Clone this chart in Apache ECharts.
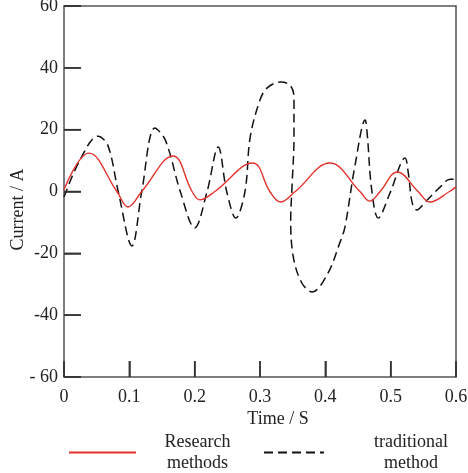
<!DOCTYPE html>
<html>
<head>
<meta charset="utf-8">
<script src="https://cdn.jsdelivr.net/npm/echarts@6/dist/echarts.min.js"></script>
<style>html,body{margin:0;padding:0;background:#fff}#c{width:468px;height:473px}</style>
</head>
<body>
<div id="c"></div>
<script>
// Series names
var seriesNames = ['Research methods', 'traditional method'];
// Tick labels
var xTickLabels = ['0', '0.1', '0.2', '0.3', '0.4', '0.5', '0.6'];
var yTickLabels = ['- 60', '-40', '-20', '0', '20', '40', '60'];
// Research methods: [time, current]
var researchData = [
  [0, 0.6], [0.038, 12.4], [0.081, 0], [0.098, -5], [0.119, 0], [0.167, 11.5],
  [0.196, 0], [0.208, -2.7], [0.231, 0], [0.289, 9.2], [0.315, 0], [0.331, -3.4],
  [0.354, 0], [0.407, 9.2], [0.453, 0], [0.468, -3.1], [0.484, 0], [0.51, 6.3],
  [0.542, 0], [0.56, -3.4], [0.59, 0], [0.6, 1.5]
];
// traditional method: [time, current]
var traditionalData = [
  [0, -1.8], [0.024, 10], [0.052, 17.9], [0.067, 15], [0.083, 0], [0.104, -17.6],
  [0.119, 0], [0.139, 20.5], [0.155, 16.7], [0.178, 0], [0.2, -11.8], [0.219, 0],
  [0.236, 14.4], [0.249, 0], [0.263, -8.6], [0.277, 0], [0.285, 17.6], [0.3, 29.6],
  [0.311, 33.5], [0.331, 35.4], [0.346, 34.4], [0.352, 30.6], [0.352, 17.6],
  [0.349, 1.5], [0.347, -9.2], [0.351, -21.2], [0.364, -29.6], [0.38, -32.5],
  [0.404, -26.4], [0.422, -16.7], [0.43, -11.5], [0.445, 7.9], [0.461, 23.1],
  [0.464, 18.9], [0.471, 0.5], [0.481, -8.6], [0.499, -0.5], [0.522, 10.8],
  [0.527, 6], [0.533, -3.7], [0.54, -6], [0.553, -3.4], [0.576, 1.5], [0.591, 4], [0.6, 4]
];

var X_MIN = 0, X_MAX = 0.6, X_STEP = 0.1;
var Y_MIN = -60, Y_MAX = 60, Y_STEP = 20;
var FONT = '"Liberation Serif", "Times New Roman", serif';
var AXIS_COLOR = '#555';
var chart = echarts.init(document.getElementById('c'), null, {renderer: 'canvas'});

function frameAxis(extra) {
  return Object.assign({
    type: 'value', show: true,
    axisLine: {show: true, onZero: false, lineStyle: {color: AXIS_COLOR, width: 1.5}},
    axisTick: {show: false}, axisLabel: {show: false}, splitLine: {show: false}
  }, extra);
}

chart.setOption({
  animation: false,
  backgroundColor: '#fff',
  grid: {left: 64, right: 12, top: 6, bottom: 96, show: false,
    containLabel: false, outerBoundsMode: 'none'},
  legend: [
    {
      data: [seriesNames[0]], left: 68, top: 433, padding: 0, itemWidth: 67, itemHeight: 14,
      itemStyle: {opacity: 0},
      formatter: function () { return '{a|Research}\n{a|methods}'; },
      textStyle: {fontFamily: FONT, fontSize: 18, color: '#222',
        rich: {a: {fontFamily: FONT, fontSize: 18, color: '#222', width: 113, align: 'center', lineHeight: 21}}}
    },
    {
      data: [seriesNames[1]], left: 263, top: 433, padding: 0, itemWidth: 60, itemHeight: 14,
      itemStyle: {opacity: 0},
      formatter: function () { return '{a|traditional}\n{a|method}'; },
      textStyle: {fontFamily: FONT, fontSize: 18, color: '#222',
        rich: {a: {fontFamily: FONT, fontSize: 18, color: '#222', width: 164, align: 'center', lineHeight: 21}}}
    }
  ],
  xAxis: [
    {
      type: 'value', min: X_MIN, max: X_MAX, interval: X_STEP, position: 'bottom',
      name: 'Time / S', nameLocation: 'middle', nameGap: 33, nameMoveOverlap: false,
      nameTextStyle: {fontFamily: FONT, fontSize: 18, color: '#222', padding: [0, 0, 0, 36]},
      axisLine: {show: true, onZero: false, lineStyle: {color: AXIS_COLOR, width: 1.5}},
      axisTick: {show: true, inside: true, length: 16, lineStyle: {color: '#333', width: 1.5}},
      axisLabel: {fontFamily: FONT, fontSize: 18, color: '#222', margin: 11,
        formatter: function (v) { return xTickLabels[Math.round(v / X_STEP)]; }},
      splitLine: {show: false}
    },
    frameAxis({min: X_MIN, max: X_MAX, position: 'top'})
  ],
  yAxis: [
    {
      type: 'value', min: Y_MIN, max: Y_MAX, interval: Y_STEP, position: 'left',
      name: 'Current / A', nameLocation: 'middle', nameGap: 37, nameRotate: 90, nameMoveOverlap: false,
      nameTextStyle: {fontFamily: FONT, fontSize: 18, color: '#222', padding: [0, 36, 0, 0]},
      axisLine: {show: true, onZero: false, lineStyle: {color: AXIS_COLOR, width: 1.5}},
      axisTick: {show: true, inside: true, length: 17, lineStyle: {color: '#333', width: 1.5}},
      axisLabel: {fontFamily: FONT, fontSize: 18, color: '#222', margin: 6,
        formatter: function (v) { return yTickLabels[Math.round((v - Y_MIN) / Y_STEP)]; }},
      splitLine: {show: false}
    },
    frameAxis({min: Y_MIN, max: Y_MAX, position: 'right'})
  ],
  series: [
    {
      name: seriesNames[0], type: 'line', data: researchData, smooth: 0.4, symbol: 'none',
      xAxisIndex: 0, yAxisIndex: 0,
      lineStyle: {color: '#e4322b', width: 1.4}, itemStyle: {color: '#e4322b'}, z: 3
    },
    {
      name: seriesNames[1], type: 'line', data: traditionalData, smooth: 0.35, symbol: 'none',
      xAxisIndex: 0, yAxisIndex: 0,
      lineStyle: {color: '#111', width: 1.5, type: [9, 5]}, itemStyle: {color: '#111'}, z: 2
    }
  ]
});

// Inward tick marks placed through the axes' own scales
var ticks = [];
var x0 = chart.convertToPixel({xAxisIndex: 0}, X_MIN);
var yBottom = chart.convertToPixel({yAxisIndex: 0}, Y_MIN);
for (var i = 0; i < yTickLabels.length; i++) {
  var py = chart.convertToPixel({yAxisIndex: 0}, Y_MIN + i * Y_STEP);
  ticks.push({type: 'line', silent: true, z: 100, zlevel: 1,
    shape: {x1: x0, y1: py, x2: x0 + 17, y2: py},
    style: {stroke: '#333', lineWidth: 1.5}});
}
for (var j = 0; j < xTickLabels.length; j++) {
  var px = chart.convertToPixel({xAxisIndex: 0}, X_MIN + j * X_STEP);
  ticks.push({type: 'line', silent: true, z: 100, zlevel: 1,
    shape: {x1: px, y1: yBottom, x2: px, y2: yBottom - 16},
    style: {stroke: '#333', lineWidth: 1.5}});
}
chart.setOption({graphic: {elements: ticks}});
</script>
</body>
</html>
